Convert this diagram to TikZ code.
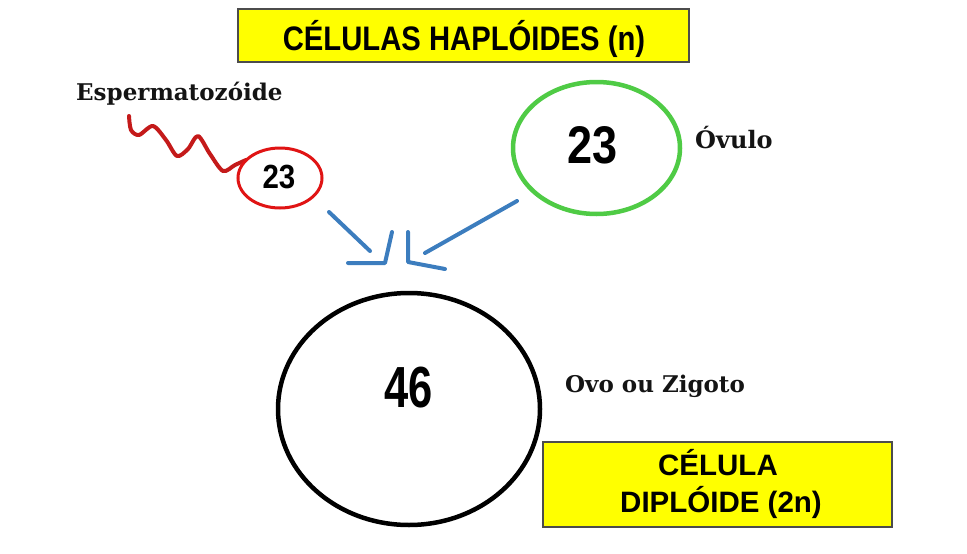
\documentclass[tikz,border=0pt]{standalone}
\usepackage{fontspec}
\setmainfont{Liberation Sans}
\newfontfamily\labelserif{DejaVu Serif}
\usetikzlibrary{shapes.geometric}

\definecolor{bannerfill}{HTML}{FFFF00}
\definecolor{spermred}{HTML}{C41A1A}
\definecolor{cellred}{HTML}{E01414}
\definecolor{cellgreen}{HTML}{4FCB45}
\definecolor{arrowblue}{HTML}{3C7DBE}

\tikzset{
  banner/.style={rectangle, draw=black!70, line width=1.2pt, fill=bannerfill, inner sep=0pt},
  bannertext/.style={anchor=base, inner sep=0pt, font=\bfseries},
  cell/.style={ellipse, inner sep=0pt, fill=white},
  count/.style={anchor=base, inner sep=0pt, font=\bfseries},
  celllabel/.style={anchor=base west, inner sep=0pt, font=\labelserif\bfseries\fontsize{23}{26}\selectfont, text=black!92},
  fuse/.style={draw=arrowblue, line width=4pt, line cap=round, line join=round},
}

\begin{document}
\begin{tikzpicture}[x=1pt, y=-1pt]
\useasboundingbox (0,0) rectangle (967,554);

% headings
\node[banner, minimum width=451pt, minimum height=53pt] (hapbox) at (463.5,35.5) {};
\node[bannertext] (haptext) at (464,50)
  {\fontsize{34}{40}\selectfont\scalebox{0.86}[1]{CÉLULAS HAPLÓIDES (n)}};

\node[banner, minimum width=349pt, minimum height=85pt] (dipbox) at (717.5,484.5) {};
\node[bannertext] (diptextA) at (718,475) {\fontsize{29.5}{34}\selectfont CÉLULA};
\node[bannertext] (diptextB) at (721,512) {\fontsize{29.5}{34}\selectfont DIPLÓIDE (2n)};

% cells
\node[cell, draw=black, line width=4.5pt, minimum width=262pt, minimum height=232pt] (zygote) at (409,409) {};
\node[count] (zygotecount) at (408.5,407) {\fontsize{58}{60}\selectfont\scalebox{0.75}[1]{46}};

\node[cell, draw=cellgreen, line width=4.5pt, minimum width=167pt, minimum height=132pt] (ovum) at (596.5,148) {};
\node[count] (ovumcount) at (593,163) {\fontsize{53}{56}\selectfont\scalebox{0.85}[1]{23}};

% sperm tail, then head on top of it
\draw[spermred, line width=4pt, line cap=round, line join=round]
  plot[smooth, tension=0.5] coordinates {
    (129,116) (131,130) (139,135) (153,126) (166,140) (177,156)
    (188,149) (198,136) (210,154) (223,171) (235,165) (246,160)};
\node[cell, draw=cellred, line width=3pt, minimum width=84pt, minimum height=60pt] (sperm) at (280,178) {};
\node[count] (spermcount) at (279,188) {\fontsize{33.5}{36}\selectfont\scalebox{0.88}[1]{23}};

% labels
\node[celllabel] (spermlabel) at (76,100) {Espermatozóide};
\node[celllabel, font=\labelserif\bfseries\fontsize{24}{26}\selectfont] (ovumlabel) at (695,148) {Óvulo};
\node[celllabel] (zygotelabel) at (565,392) {Ovo ou Zigoto};

% fusion arrows
\coordinate (spermshaftA) at (329,212);
\coordinate (spermshaftB) at (370,251);
\coordinate (spermtipA) at (348,263);
\coordinate (spermtip) at (385,263);
\coordinate (spermtipB) at (392,232);
\draw[fuse] (spermshaftA) -- (spermshaftB);
\draw[fuse] (spermtipA) -- (spermtip) -- (spermtipB);

\coordinate (ovumshaftA) at (517,201);
\coordinate (ovumshaftB) at (425,253);
\coordinate (ovumtipA) at (408,232);
\coordinate (ovumtip) at (408,262);
\coordinate (ovumtipB) at (445,269);
\draw[fuse] (ovumshaftA) -- (ovumshaftB);
\draw[fuse] (ovumtipA) -- (ovumtip) -- (ovumtipB);
\end{tikzpicture}
\end{document}
